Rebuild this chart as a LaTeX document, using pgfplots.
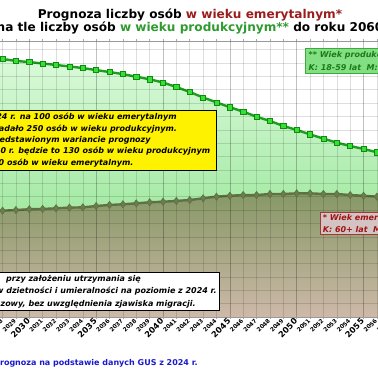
\documentclass[border=0pt]{standalone}
\usepackage{pgfplots}
\pgfplotsset{compat=1.18}
\usepackage{pgfplotstable}
\usepackage{fontspec}
\setmainfont{DejaVu Sans}

\definecolor{gline}{HTML}{1E9E1E}
\definecolor{gmark}{HTML}{33E033}
\definecolor{gmarkd}{HTML}{118A11}
\definecolor{oline}{HTML}{5E7044}
\definecolor{omark}{HTML}{6A7D4C}
\definecolor{gtop}{HTML}{DAFADA}
\definecolor{gbot}{HTML}{7EDE7E}
\definecolor{otop}{HTML}{879866}
\definecolor{obot}{HTML}{CDB9A8}
\definecolor{tred}{HTML}{9B1C1C}
\definecolor{tgreen}{HTML}{2E9B2E}
\definecolor{gboxbg}{HTML}{82DF82}
\definecolor{gboxbd}{HTML}{3DAA3D}
\definecolor{gboxtx}{HTML}{1B7A1B}
\definecolor{pboxbg}{HTML}{D3C3C3}
\definecolor{pboxbd}{HTML}{9E3A3A}
\definecolor{pboxtx}{HTML}{A01212}
\definecolor{srcblue}{HTML}{1A1ACC}

\pgfplotstableread{
year val
2027 19.38
2028 19.30
2029 19.15
2030 19.07
2031 18.96
2032 18.85
2033 18.74
2034 18.62
2035 18.47
2036 18.32
2037 18.17
2038 17.97
2039 17.78
2040 17.54
2041 17.20
2042 16.83
2043 16.42
2044 16.05
2045 15.69
2046 15.36
2047 14.98
2048 14.66
2049 14.29
2050 13.99
2051 13.66
2052 13.34
2053 13.04
2054 12.79
2055 12.57
2056 12.32
2057 12.08
}\prodtab

\pgfplotstableread{
year val
2027 7.93
2028 7.95
2029 8.00
2030 8.06
2031 8.08
2032 8.13
2033 8.18
2034 8.20
2035 8.30
2036 8.38
2037 8.43
2038 8.50
2039 8.58
2040 8.62
2041 8.68
2042 8.75
2043 8.88
2044 9.00
2045 9.07
2046 9.12
2047 9.12
2048 9.20
2049 9.20
2050 9.25
2051 9.25
2052 9.20
2053 9.20
2054 9.12
2055 9.07
2056 9.00
2057 8.90
}\emertab

\newcommand\ys[1]{{\fontsize{5.8}{6}\selectfont #1}}
\newcommand\yl[1]{{\fontsize{8.2}{9}\selectfont #1}}

\begin{document}
\begin{tikzpicture}[x=1pt,y=1pt]
\begin{scope}
\clip (0,0) rectangle (378,370);
\begin{axis}[
  at={(-64.3pt,53pt)}, anchor=south west,
  x=13.37pt, y=13.37pt,
  xmin=2023, xmax=2061, ymin=0, ymax=20.64,
  axis on top,
  axis line style={draw=gray!80, line width=0.8pt},
  xtick={2024,...,2060},
  xticklabels={\ys{2024},\yl{2025},\ys{2026},\ys{2027},\ys{2028},\ys{2029},\yl{2030},\ys{2031},\ys{2032},\ys{2033},\ys{2034},\yl{2035},\ys{2036},\ys{2037},\ys{2038},\ys{2039},\yl{2040},\ys{2041},\ys{2042},\ys{2043},\ys{2044},\yl{2045},\ys{2046},\ys{2047},\ys{2048},\ys{2049},\yl{2050},\ys{2051},\ys{2052},\ys{2053},\ys{2054},\yl{2055},\ys{2056},\ys{2057},\ys{2058},\ys{2059},\yl{2060}},
  xticklabel style={rotate=45, anchor=east, font=\bfseries, inner sep=1pt},
  ytick={0,1,...,20},
  yticklabels={},
  tick align=outside,
  major tick length=2pt,
  tick style={draw=gray!70, line width=0.5pt},
  grid=major,
  major grid style={draw=black, opacity=0.13, line width=0.5pt},
  extra x ticks={2025,2030,...,2060},
  extra x tick labels={},
  extra x tick style={grid style={draw=black, opacity=0.25, line width=0.8pt}},
]
\addplot[draw=none, top color=gtop, bottom color=gbot] table[x=year,y=val] {\prodtab} \closedcycle;
\addplot[draw=none, top color=otop, bottom color=obot] table[x=year,y=val] {\emertab} \closedcycle;
\addplot[gline, line width=2.4pt, mark=square*, mark size=2.6pt, mark options={fill=gmark, draw=gmarkd, line width=0.6pt}] table[x=year,y=val] {\prodtab};
\addplot[oline, line width=2.4pt, mark=diamond*, mark size=3.6pt, mark options={fill=omark, draw=oline, line width=0.6pt}] table[x=year,y=val] {\emertab};
\end{axis}

% title
\node[anchor=base, font=\fontsize{12.1}{13}\selectfont\bfseries] at (190,351.7)
  {Prognoza liczby osób \textcolor{tred}{w wieku emerytalnym*}};
\node[anchor=base, font=\fontsize{12.1}{13}\selectfont\bfseries] at (190,338.3)
  {na tle liczby osób \textcolor{tgreen}{w wieku produkcyjnym**} do roku 2060};

% yellow box
\node[draw=black, fill=yellow, line width=0.8pt, anchor=north west, align=left,
  font=\fontsize{8}{11.4}\selectfont\bfseries\itshape, inner sep=3pt, minimum width=249pt] at (-33,260)
  {W 2024 r. na 100 osób w wieku emerytalnym\\
   przypadało 250 osób w wieku produkcyjnym.\\
   W przedstawionym wariancie prognozy\\
   w 2060 r. będzie to 130 osób w wieku produkcyjnym\\
   na 100 osób w wieku emerytalnym.};

% green box
\node[draw=gboxbd, fill=gboxbg, line width=0.7pt, anchor=north west, align=left, text=gboxtx,
  font=\fontsize{8}{12.5}\selectfont\bfseries\itshape, inner sep=3.3pt] at (305,322)
  {** Wiek produkcyjny:\\K: 18-59 lat\ \ M: 18-64 lata};

% pink box
\node[draw=pboxbd, fill=pboxbg, line width=0.7pt, anchor=north west, align=left, text=pboxtx,
  font=\fontsize{8}{11.5}\selectfont\bfseries\itshape, inner sep=2.5pt] at (320,158.3)
  {* Wiek emerytalny:\\K: 60+ lat\ \ M: 65+ lat};

% white box
\node[draw=black, fill=white, line width=0.8pt, anchor=north, align=center,
  font=\fontsize{8}{12.3}\selectfont\bfseries\itshape, inner sep=3pt] at (73.5,98)
  {przy założeniu utrzymania się\\
   współczynników dzietności i umieralności na poziomie z 2024 r.\\
   Wariant bazowy, bez uwzględnienia zjawiska migracji.};

% source
\node[anchor=base west, text=srcblue, font=\fontsize{8}{10}\selectfont\bfseries, inner sep=0pt] at (-6,5)
  {Prognoza na podstawie danych GUS z 2024 r.};
\end{scope}
\pgfresetboundingbox
\path[use as bounding box] (0,0) rectangle (378,370);
\end{tikzpicture}
\end{document}
